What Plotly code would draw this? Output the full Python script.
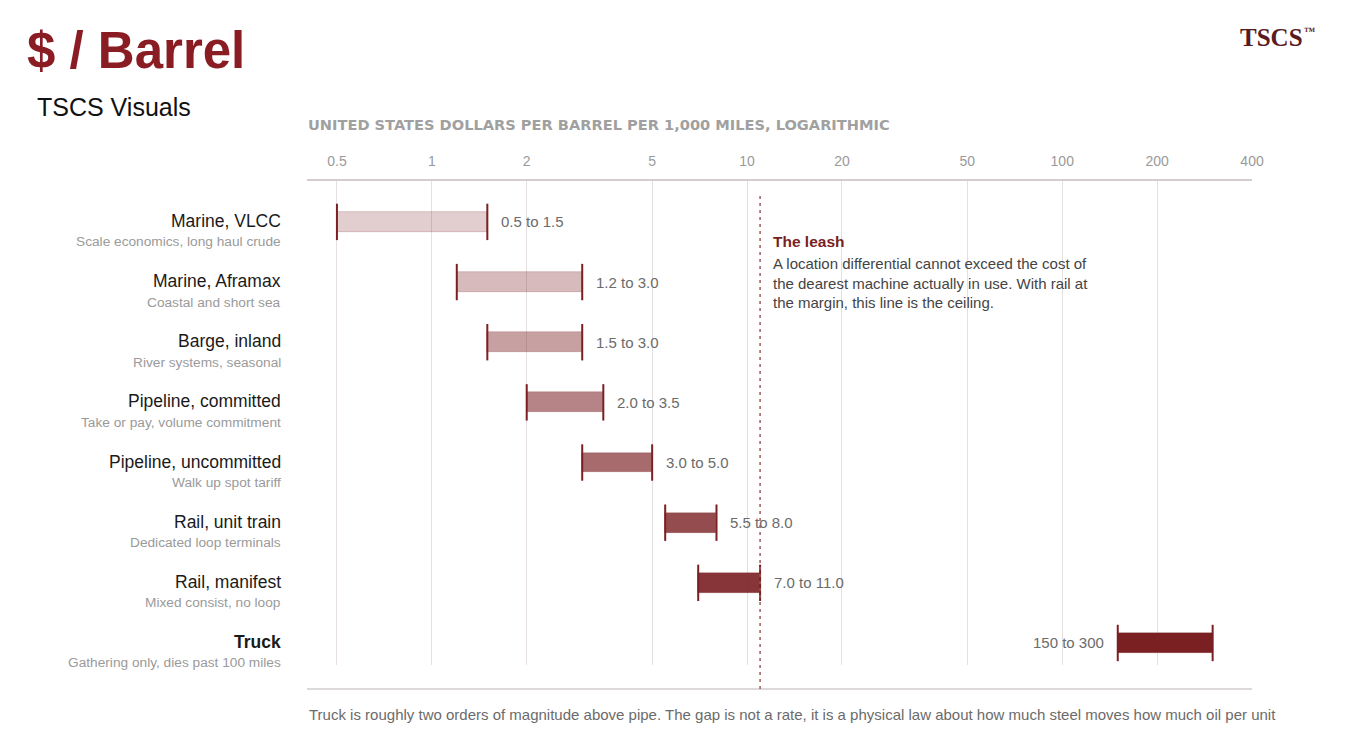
"""
Transport cost per barrel per 1,000 miles, by mode (log scale range bars).
"""

import math
import plotly.graph_objects as go

# data
modes = ['Marine, VLCC', 'Marine, Aframax', 'Barge, inland', 'Pipeline, committed',
         'Pipeline, uncommitted', 'Rail, unit train', 'Rail, manifest', 'Truck']
notes = ['Scale economics, long haul crude', 'Coastal and short sea', 'River systems, seasonal',
         'Take or pay, volume commitment', 'Walk up spot tariff', 'Dedicated loop terminals',
         'Mixed consist, no loop', 'Gathering only, dies past 100 miles']
low = [0.5, 1.2, 1.5, 2.0, 3.0, 5.5, 7.0, 150]
high = [1.5, 3.0, 3.0, 3.5, 5.0, 8.0, 11.0, 300]
tick_vals = [0.5, 1, 2, 5, 10, 20, 50, 100, 200, 400]
tick_text = ['0.5', '1', '2', '5', '10', '20', '50', '100', '200', '400']
leash = 11.0

# page geometry (screen pixels); the page body adds an 8px offset
OFF = 8
W, H = 1355, 752
L, R, T, B = 307, 103, 181, 87
PW, PH = W - L - R, H - T - B

FONT = 'Liberation Sans, Arial, sans-serif'
SERIF = 'Liberation Serif, Times New Roman, serif'
MAROON = '#7a1f22'
bar_alpha = [0.22, 0.3, 0.42, 0.55, 0.66, 0.8, 0.9, 1.0]


def paper_x(px):
    return (px - L) / PW


def paper_y(py):
    return (H - B - py) / PH


rows = list(range(len(modes)))

fig = go.Figure()

fig.add_trace(go.Bar(
    y=rows, x=[h - l for l, h in zip(low, high)], base=low, orientation='h', width=0.33,
    marker=dict(color=[f'rgba(122,31,34,{a})' for a in bar_alpha],
                line=dict(color='rgba(122,31,34,0.35)', width=0.6)),
    hoverinfo='skip', showlegend=False))

# end caps
fig.add_trace(go.Scatter(
    x=low + high, y=rows + rows, mode='markers',
    marker=dict(symbol='line-ns', size=26, line=dict(color=MAROON, width=2)),
    hoverinfo='skip', showlegend=False))

annotations = []

# row labels
for i, (m, n) in enumerate(zip(modes, notes)):
    name = f'<b>{m}</b>' if i == len(modes) - 1 else m
    annotations.append(dict(x=paper_x(283), xref='paper', y=i, yref='y', text=name,
                            xanchor='right', yanchor='middle', yshift=1, showarrow=False,
                            font=dict(family=FONT, size=17.5, color='#1a1a1a')))
    annotations.append(dict(x=paper_x(283), xref='paper', y=i, yref='y', text=n,
                            xanchor='right', yanchor='middle', yshift=-20, showarrow=False,
                            font=dict(family=FONT, size=13.7, color='#9a9a9a')))

# value labels (annotation x on a log axis is given in log10 units)
for i, (l, h) in enumerate(zip(low, high)):
    txt = f'{l:g} to {h:g}' if l >= 100 else f'{l:.1f} to {h:.1f}'
    if l > leash:
        annotations.append(dict(x=math.log10(l), xref='x', y=i, yref='y', text=txt,
                                xanchor='right', xshift=-12, showarrow=False,
                                font=dict(family=FONT, size=15, color='#6b6b6b')))
    else:
        annotations.append(dict(x=math.log10(h), xref='x', y=i, yref='y', text=txt,
                                xanchor='left', xshift=12, showarrow=False,
                                font=dict(family=FONT, size=15, color='#6b6b6b')))

# leash note
annotations.append(dict(x=math.log10(leash), xref='x', xshift=11, y=paper_y(241), yref='paper',
                        text='<b>The leash</b>', xanchor='left', yanchor='middle', showarrow=False,
                        font=dict(family=FONT, size=15.5, color=MAROON)))
annotations.append(dict(x=math.log10(leash), xref='x', xshift=11, y=paper_y(253), yref='paper',
                        text='A location differential cannot exceed the cost of<br>'
                             'the dearest machine actually in use. With rail at<br>'
                             'the margin, this line is the ceiling.',
                        xanchor='left', yanchor='top', align='left', showarrow=False,
                        font=dict(family=FONT, size=15, color='#444444')))

# titles and captions
annotations.append(dict(x=paper_x(25), xref='paper', y=paper_y(51), yref='paper',
                        text='<b>$ / Barrel</b>', xanchor='left', yanchor='middle', showarrow=False,
                        font=dict(family=FONT, size=51, color='#8a1c24')))
annotations.append(dict(x=paper_x(35), xref='paper', y=paper_y(107), yref='paper',
                        text='TSCS Visuals', xanchor='left', yanchor='middle', showarrow=False,
                        font=dict(family=FONT, size=25, color='#111111')))
annotations.append(dict(x=paper_x(1238), xref='paper', y=paper_y(37), yref='paper',
                        text='<b>TSCS</b>', xanchor='left', yanchor='middle', showarrow=False,
                        font=dict(family=SERIF, size=25, color='#5b1a1e')))
annotations.append(dict(x=paper_x(1302), xref='paper', y=paper_y(31), yref='paper',
                        text='<b>™</b>', xanchor='left', yanchor='middle', showarrow=False,
                        font=dict(family=SERIF, size=11, color='#5b1a1e')))
annotations.append(dict(x=paper_x(306), xref='paper', y=paper_y(125), yref='paper',
                        text='<b>UNITED STATES DOLLARS PER BARREL PER 1,000 MILES, LOGARITHMIC</b>',
                        xanchor='left', yanchor='middle', showarrow=False,
                        font=dict(family='DejaVu Sans, sans-serif', size=14.6, color='#a0a0a0')))
annotations.append(dict(x=0, xref='paper', y=paper_y(714), yref='paper',
                        text='Truck is roughly two orders of magnitude above pipe. The gap is not a '
                             'rate, it is a physical law about how much steel moves how much oil per unit',
                        xanchor='left', yanchor='middle', showarrow=False,
                        font=dict(family=FONT, size=15, color='#6b6b6b')))

shapes = [
    # bottom rule
    dict(type='line', xref='paper', yref='paper', x0=0, x1=1, y0=paper_y(689), y1=paper_y(689),
         line=dict(color='#d3cdcd', width=1.5)),
    # leash line
    dict(type='line', xref='x', yref='paper', x0=leash, x1=leash, y0=paper_y(689),
         y1=paper_y(192), line=dict(color='#a05a5e', width=1.5, dash='3px,4px')),
]

fig.update_layout(
    width=W - OFF, height=H - OFF,
    margin=dict(l=L - OFF, r=R, t=T - OFF, b=B),
    paper_bgcolor='white', plot_bgcolor='rgba(0,0,0,0)',
    bargap=0,
    xaxis=dict(type='log', range=[-0.396, 2.602], side='top', tickvals=tick_vals,
               ticktext=tick_text, showgrid=True, gridcolor='#e6dfdf', gridwidth=1,
               showline=True, linecolor='#d3cdcd', linewidth=1.5, ticks='',
               ticklabelstandoff=8, zeroline=False,
               tickfont=dict(family=FONT, size=14, color='#9a9a9a')),
    yaxis=dict(range=[7.366, -0.68], visible=False, showgrid=False, zeroline=False),
    annotations=annotations,
    shapes=shapes,
)

fig.write_html('out.html')
